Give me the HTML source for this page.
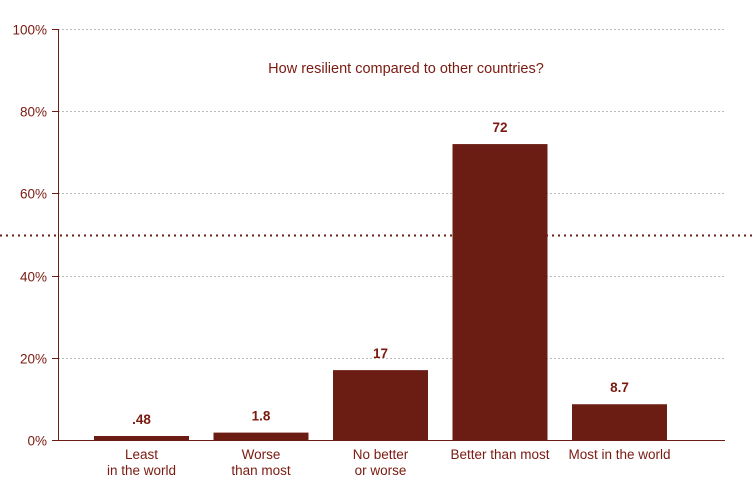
<!DOCTYPE html>
<html><head><meta charset="utf-8"><style>
html,body{margin:0;padding:0;background:#fff;}
svg{display:block;font-family:"Liberation Sans",sans-serif;}
</style></head><body>
<svg id="chart" width="754" height="494" viewBox="0 0 754 494" xmlns="http://www.w3.org/2000/svg">
<g id="grid"></g>
<line x1="0" x2="754" y1="235.5" y2="235.5" stroke="#6b1d14" stroke-width="2" stroke-dasharray="2,4"/>
<g id="bars"></g>
<g id="yaxis"></g>
<g id="xaxis"></g>
<text x="406" y="73" text-anchor="middle" font-size="14.5" fill="#7a1a10">How resilient compared to other countries?</text>
</svg>
<script>
const categories = [["Least","in the world"],["Worse","than most"],["No better","or worse"],["Better than most"],["Most in the world"]];
const values = [0.48, 1.8, 17, 72, 8.7];
const valueLabels = [".48","1.8","17","72","8.7"];
const yTicks = [0,20,40,60,80,100];
const yTickLabels = ["0%","20%","40%","60%","80%","100%"];

const NS="http://www.w3.org/2000/svg";
const y0=440, y100=29, axX=58, xEnd=725;
const yScale=v=>y0-(v/100)*(y0-y100);
const bandStart=94, bandStep=119.5, barW=95;
const xScale=i=>bandStart+i*bandStep;
const col="#6b1d14", txt="#7a1a10";
function mk(tag,attrs,parent){const e=document.createElementNS(NS,tag);for(const k in attrs)e.setAttribute(k,attrs[k]);parent.appendChild(e);return e;}
const grid=document.getElementById('grid'),bars=document.getElementById('bars'),ya=document.getElementById('yaxis'),xa=document.getElementById('xaxis');
yTicks.forEach((t,i)=>{
  const y=Math.round(yScale(t))+0.5;
  if(t>0){const g=mk('line',{x1:axX,x2:xEnd,y1:y,y2:y,stroke:"#bbb","stroke-width":1,"stroke-dasharray":"2,2"},grid);
  
  }
  const tk=mk('line',{x1:52,x2:axX,y1:y,y2:y,stroke:col,"stroke-width":1},ya);
  
  
  const l=mk('text',{x:47,y:y+5,"text-anchor":"end","font-size":13.5,fill:txt},ya);
  l.textContent=yTickLabels[i];
  
  
});
const axl=mk('line',{x1:axX+0.5,x2:axX+0.5,y1:y100,y2:y0,stroke:col,"stroke-width":1},ya);


values.forEach((v,i)=>{
  const x=xScale(i), top=Math.min(yScale(v), y0-4);
  const r=mk('rect',{x:x,y:top,width:barW,height:y0-top,fill:col},bars);
  
  
  const t=mk('text',{x:x+barW/2,y:top-12,"text-anchor":"middle","font-size":13.5,"font-weight":"bold",fill:txt},bars);
  t.textContent=valueLabels[i];
  
  
  categories[i].forEach((line,j)=>{
    const c=mk('text',{x:x+barW/2,y:459+j*16,"text-anchor":"middle","font-size":13.5,fill:txt},xa);
    c.textContent=line;
    
    
  });
});
const base=mk('line',{x1:axX,x2:xEnd,y1:y0+0.5,y2:y0+0.5,stroke:col,"stroke-width":1},xa);


</script>
</body></html>
